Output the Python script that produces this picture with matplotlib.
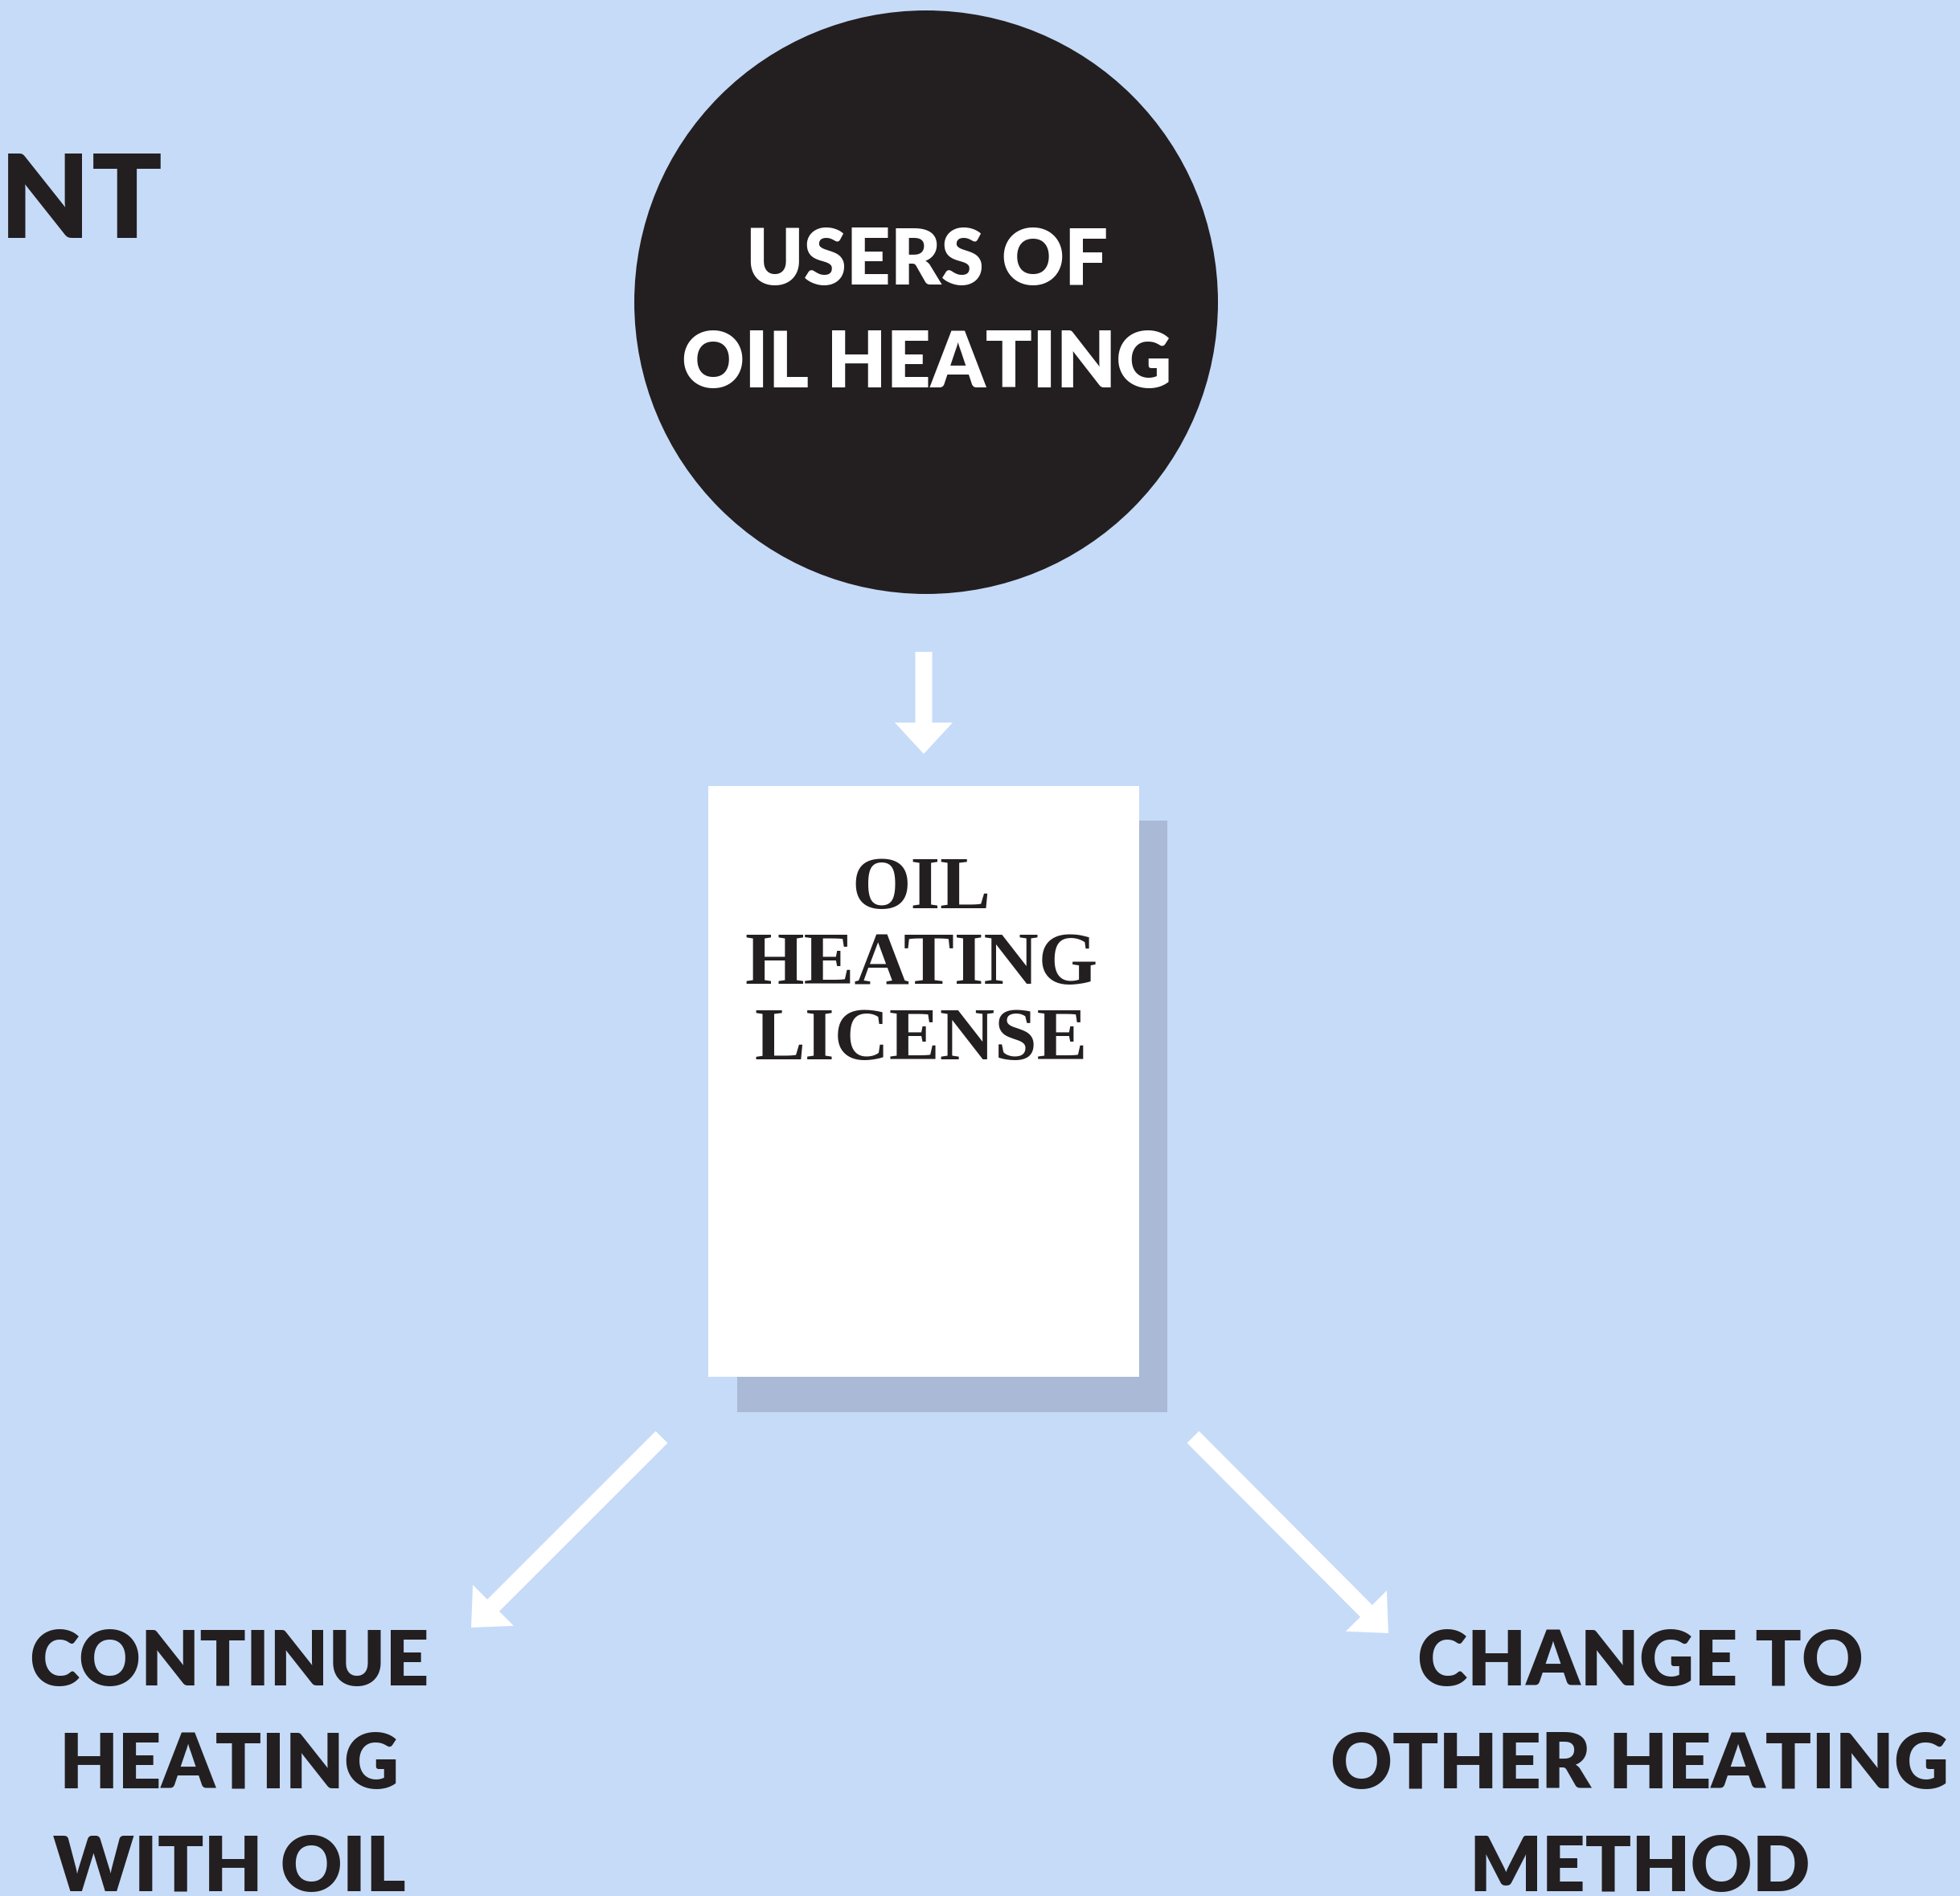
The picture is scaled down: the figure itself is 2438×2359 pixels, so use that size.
import matplotlib.pyplot as plt
from matplotlib import patches

# texts of the diagram
title_tail = ["N", "T"]
circle_lines = ["USERS OF", "OIL HEATING"]
license_lines = ["OIL", "HEATING", "LICENSE"]
left_lines = ["CONTINUE", "HEATING", "WITH OIL"]
right_lines = ["CHANGE TO", "OTHER HEATING", "METHOD"]

W, H = 2438, 2359
bg = "#C6DBF8"
dark = "#231F20"
shadow = "#A9B9D6"

fig = plt.figure(figsize=(W / 100, H / 100), dpi=100, facecolor=bg)
ax = fig.add_axes([0, 0, 1, 1])
ax.set_xlim(0, W)
ax.set_ylim(H, 0)
ax.set_aspect("equal")
ax.axis("off")
ax.set_facecolor(bg)

sans = dict(family="Lato", weight="heavy", color=dark)

# cut off heading at top left
ax.text(0, 296, title_tail[0], fontsize=104, va="baseline", ha="left", **sans)
ax.text(114, 296, title_tail[1], fontsize=104, va="baseline", ha="left", **sans)

# big black circle
ax.add_patch(patches.Circle((1152, 376), 363, color=dark, lw=0))
for line, base in zip(circle_lines, [354, 482]):
    ax.text(1153, base, line, fontsize=69, ha="center", va="baseline",
            family="Lato", weight="heavy", color="white")

# arrows
arrow_kw = dict(width=21, head_width=72, head_length=39,
                length_includes_head=True, color="white", lw=0)
ax.add_patch(patches.FancyArrow(1149, 811, 0, 938 - 811, **arrow_kw))
ax.add_patch(patches.FancyArrow(823, 1788, 586 - 823, 2025 - 1788, **arrow_kw))
ax.add_patch(patches.FancyArrow(1484, 1788, 1727 - 1484, 2032 - 1788, **arrow_kw))

# license document with shadow
ax.add_patch(patches.Rectangle((917, 1021), 535, 736, color=shadow, lw=0))
ax.add_patch(patches.Rectangle((881, 978), 536, 735, color="white", lw=0))
for line, base in zip(license_lines, [1130, 1224, 1318]):
    ax.text(1146, base, line, fontsize=68, ha="center", va="baseline",
            family="Liberation Serif", weight="bold", color=dark)

# outcomes
for line, base in zip(left_lines, [2097, 2225, 2353]):
    ax.text(285, base, line, fontsize=68, ha="center", va="baseline", **sans)
for line, base in zip(right_lines, [2097, 2225, 2353]):
    ax.text(2040, base, line, fontsize=68, ha="center", va="baseline", **sans)

fig.savefig("out.png", dpi=100, facecolor=bg)
